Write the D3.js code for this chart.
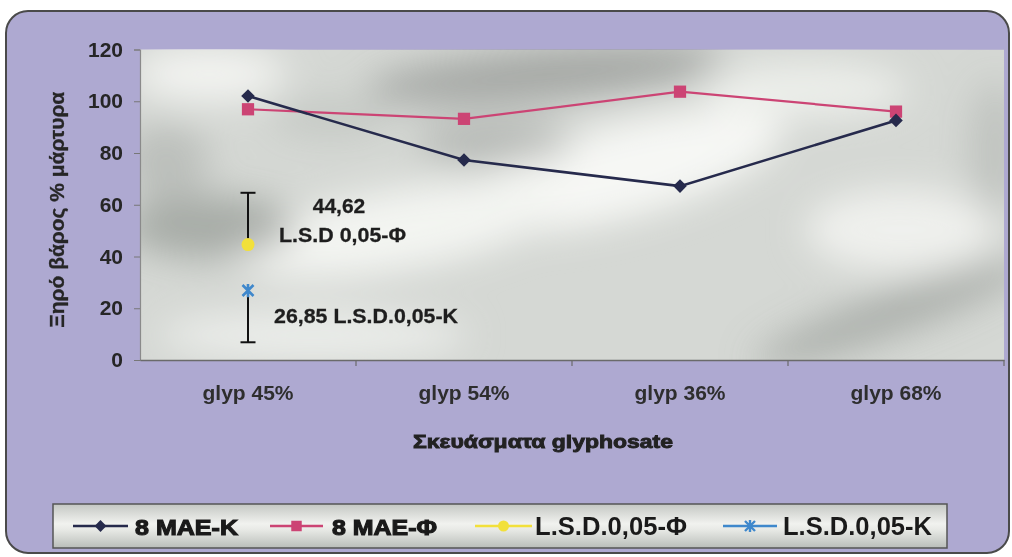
<!DOCTYPE html>
<html>
<head>
<meta charset="utf-8">
<script src="https://cdn.jsdelivr.net/npm/d3@7/dist/d3.min.js"></script>
<style>
  html, body { margin: 0; padding: 0; background: #ffffff; }
  svg { display: block; }
  text { font-family: "Liberation Sans", Arial, sans-serif; }
</style>
</head>
<body>
<svg id="chart" width="1012" height="557"></svg>
<script>
// ---- data ----
const categories = ["glyp 45%", "glyp 54%", "glyp 36%", "glyp 68%"];
const seriesK   = [102, 77.3, 67.2, 92.6];    // 8 ΜΑΕ-Κ
const seriesPhi = [96.9, 93.2, 103.7, 96];    // 8 ΜΑΕ-Φ
const lsdPhi = 44.62;                         // L.S.D.0,05-Φ
const lsdK   = 26.85;                         // L.S.D.0,05-Κ
const lsdBar = 20;                            // error bar length
const yTicks = [0, 20, 40, 60, 80, 100, 120];
const legendLabels = ["8 MAE-K", "8 MAE-Φ", "L.S.D.0,05-Φ", "L.S.D.0,05-K"];
const yTitle = "Ξηρό βάρος % μάρτυρα";
const xTitle = "Σκευάσματα glyphosate";

// ---- layout ----
const plot = { left: 140, right: 1004, top: 49.5, bottom: 360 };
const colK = "#262a4c", colPhi = "#cc4474", colYel = "#f2e03a", colBlue = "#3f88cc";

const svg = d3.select("#chart");
const defs = svg.append("defs");

// soft blur for the mottled plot fill
defs.append("filter").attr("id", "soft").attr("x", "-50%").attr("y", "-50%")
  .attr("width", "200%").attr("height", "200%")
  .append("feGaussianBlur").attr("stdDeviation", 18);

defs.append("clipPath").attr("id", "plotClip")
  .append("rect").attr("x", plot.left).attr("y", plot.top)
  .attr("width", plot.right - plot.left).attr("height", plot.bottom - plot.top);

const lg = defs.append("linearGradient").attr("id", "legendFill")
  .attr("x1", 0).attr("y1", 0).attr("x2", 0).attr("y2", 1);
[[0, "#c4c7c3"], [0.45, "#f1f2ef"], [0.6, "#e6e8e4"], [1, "#b9bdb9"]]
  .forEach(([o, c]) => lg.append("stop").attr("offset", o).attr("stop-color", c));

// ---- outer frame ----
svg.append("rect")
  .attr("x", 6).attr("y", 11).attr("width", 1003).attr("height", 542)
  .attr("rx", 22).attr("ry", 22)
  .attr("fill", "#aea9d1").attr("stroke", "#4a4a4a").attr("stroke-width", 2);

// ---- plot background (grey marble-like fill) ----
const bg = svg.append("g").attr("clip-path", "url(#plotClip)");
bg.append("rect").attr("x", plot.left).attr("y", plot.top)
  .attr("width", plot.right - plot.left).attr("height", plot.bottom - plot.top)
  .attr("fill", "#d5d8d4");
// clouds in plot-fraction units: [fx, fy, frx, fry, angle, colour, opacity]
const clouds = [
  [0.56, 0.39, 0.19, 0.15, -15, "#f6f7f4", 1],
  [0.30, 0.58, 0.19, 0.13, -10, "#f3f4f1", 1],
  [0.08, 0.08, 0.09, 0.09, 0, "#f2f3f0", 1],
  [0.77, 0.13, 0.12, 0.09, 0, "#eceeea", 1],
  [0.88, 0.58, 0.11, 0.13, 0, "#eff0ed", 1],
  [0.20, 0.92, 0.18, 0.08, 0, "#ebedea", 1],
  [0.47, 0.08, 0.21, 0.08, -5, "#8e928e", 0.7],
  [0.41, 0.30, 0.09, 0.07, 0, "#9a9e9a", 0.55],
  [0.08, 0.57, 0.10, 0.10, 0, "#8f938f", 0.65],
  [0.03, 0.36, 0.05, 0.12, 0, "#9ea29e", 0.45],
  [0.87, 0.85, 0.17, 0.07, -20, "#929692", 0.6],
  [0.99, 0.32, 0.03, 0.22, 0, "#a0a4a0", 0.4],
  [0.22, 0.22, 0.07, 0.06, 0, "#adb1ad", 0.4]
];
const pw = plot.right - plot.left, ph = plot.bottom - plot.top;
bg.append("g").attr("filter", "url(#soft)")
  .selectAll("ellipse").data(clouds).join("ellipse")
  .attr("cx", d => plot.left + d[0] * pw).attr("cy", d => plot.top + d[1] * ph)
  .attr("rx", d => d[2] * pw).attr("ry", d => d[3] * ph)
  .attr("transform", d => `rotate(${d[4]},${plot.left + d[0] * pw},${plot.top + d[1] * ph})`)
  .attr("fill", d => d[5]).attr("opacity", d => d[6]);

// ---- scales ----
const x = d3.scaleBand().domain(categories).range([plot.left, plot.right]).padding(0);
const cx = c => x(c) + x.bandwidth() / 2;
const y = d3.scaleLinear().domain([0, 120]).range([plot.bottom, plot.top]);

// ---- axes ----
const yAxis = d3.axisLeft(y).tickValues(yTicks).tickSize(6).tickPadding(11);
const gy = svg.append("g").attr("transform", `translate(${plot.left},0)`).call(yAxis);
gy.select(".domain").attr("stroke", "#8a8a8a").attr("stroke-width", 1.2);
gy.selectAll(".tick line").attr("stroke", "#777");
gy.selectAll(".tick text").attr("font-size", 21).attr("font-weight", "bold")
  .attr("fill", "#262626").attr("font-family", '"Liberation Sans", Arial, sans-serif');

const xAxis = d3.axisBottom(x).tickSize(0).tickPadding(25);
const gx = svg.append("g").attr("transform", `translate(0,${plot.bottom})`).call(xAxis);
gx.select(".domain").attr("stroke", "#6a6a6a").attr("stroke-width", 1.5);
gx.selectAll(".tick text").attr("font-size", 21).attr("font-weight", "bold")
  .attr("fill", "#2e2e2e").attr("font-family", '"Liberation Sans", Arial, sans-serif');
// category boundary ticks
gx.selectAll(".bound").data(categories).join("line").attr("class", "bound")
  .attr("x1", d => x(d) + x.bandwidth()).attr("x2", d => x(d) + x.bandwidth())
  .attr("y1", 0).attr("y2", 6).attr("stroke", "#6a6a6a").attr("stroke-width", 1.2);

// ---- axis titles ----
svg.append("text")
  .attr("transform", `translate(57,${(plot.top + plot.bottom) / 2 + 5}) rotate(-90)`)
  .attr("text-anchor", "middle").attr("dominant-baseline", "central")
  .attr("textLength", 236).attr("lengthAdjust", "spacingAndGlyphs")
  .attr("font-size", 20).attr("font-weight", "bold").attr("fill", "#262626")
  .attr("stroke", "#262626").attr("stroke-width", 0.3)
  .text(yTitle);

svg.append("text")
  .attr("x", 413).attr("y", 448)
  .attr("textLength", 260).attr("lengthAdjust", "spacingAndGlyphs")
  .attr("font-size", 19).attr("font-weight", "bold").attr("fill", "#222")
  .attr("stroke", "#222").attr("stroke-width", 0.9)
  .text(xTitle);

// ---- series lines ----
const line = d3.line().x((d, i) => cx(categories[i])).y(d => y(d));
svg.append("path").datum(seriesPhi).attr("d", line)
  .attr("fill", "none").attr("stroke", colPhi).attr("stroke-width", 2.2);
svg.append("path").datum(seriesK).attr("d", line)
  .attr("fill", "none").attr("stroke", colK).attr("stroke-width", 2.6);

const sq = d3.symbol(d3.symbolSquare, 150);
svg.append("g").selectAll("path").data(seriesPhi).join("path")
  .attr("d", sq).attr("fill", colPhi)
  .attr("transform", (d, i) => `translate(${cx(categories[i])},${y(d)})`);

const dia = d3.symbol(d3.symbolSquare, 92);
svg.append("g").selectAll("path").data(seriesK).join("path")
  .attr("d", dia).attr("fill", colK)
  .attr("transform", (d, i) => `translate(${cx(categories[i])},${y(d)}) rotate(45)`);

// ---- LSD error bars and points ----
const x0 = cx(categories[0]);
const capW = 15;
function errBar(from, to) {
  const g = svg.append("g").attr("stroke", "#111").attr("stroke-width", 2);
  g.append("line").attr("x1", x0).attr("x2", x0).attr("y1", y(from)).attr("y2", y(to));
  g.append("line").attr("x1", x0 - capW / 2).attr("x2", x0 + capW / 2).attr("y1", y(to)).attr("y2", y(to));
}
errBar(lsdPhi, lsdPhi + lsdBar);
errBar(lsdK, lsdK - lsdBar);

svg.append("circle").attr("cx", x0).attr("cy", y(lsdPhi)).attr("r", 6.5).attr("fill", colYel);

function asterisk(g, px, py, r, w) {
  g.append("path")
    .attr("d", `M${px - r},${py - r}L${px + r},${py + r}M${px - r},${py + r}L${px + r},${py - r}M${px},${py - r * 1.2}L${px},${py + r * 1.2}`)
    .attr("stroke", colBlue).attr("stroke-width", w).attr("fill", "none");
}
asterisk(svg, x0, y(lsdK), 5.5, 2.6);

// value labels
const lab = svg.append("g").attr("font-size", 21).attr("font-weight", "bold").attr("fill", "#1e1e1e")
  .attr("stroke", "#1e1e1e").attr("stroke-width", 0.3);
lab.append("text").attr("x", 339).attr("y", 213).attr("text-anchor", "middle")
  .text(lsdPhi.toFixed(2).replace(".", ","));
lab.append("text").attr("x", 279).attr("y", 242).attr("textLength", 127).attr("lengthAdjust", "spacingAndGlyphs")
  .text("L.S.D 0,05-Φ");
lab.append("text").attr("x", 274).attr("y", 323).attr("textLength", 184).attr("lengthAdjust", "spacingAndGlyphs")
  .text(lsdK.toFixed(2).replace(".", ",") + " L.S.D.0,05-K");

// ---- legend ----
const leg = svg.append("g");
leg.append("rect").attr("x", 53).attr("y", 504).attr("width", 894).attr("height", 44)
  .attr("fill", "url(#legendFill)").attr("stroke", "#555").attr("stroke-width", 1.5);
const ly = 526;
const items = [
  { x1: 73, x2: 128, col: colK, mark: "dia", tx: 135, tw: 103, heavy: true },
  { x1: 270, x2: 323, col: colPhi, mark: "sq", tx: 332, tw: 105, heavy: true },
  { x1: 475, x2: 532, col: colYel, mark: "dot", tx: 535, tw: 152, heavy: false },
  { x1: 723, x2: 777, col: colBlue, mark: "ast", tx: 783, tw: 149, heavy: false }
];
items.forEach((it, i) => {
  const m = (it.x1 + it.x2) / 2;
  leg.append("line").attr("x1", it.x1).attr("x2", it.x2).attr("y1", ly).attr("y2", ly)
    .attr("stroke", it.col).attr("stroke-width", 2.4);
  if (it.mark === "dia") {
    leg.append("path").attr("d", d3.symbol(d3.symbolSquare, 70)).attr("fill", it.col)
      .attr("transform", `translate(${m},${ly}) rotate(45)`);
  } else if (it.mark === "sq") {
    leg.append("path").attr("d", d3.symbol(d3.symbolSquare, 110)).attr("fill", it.col)
      .attr("transform", `translate(${m},${ly})`);
  } else if (it.mark === "dot") {
    leg.append("circle").attr("cx", m).attr("cy", ly).attr("r", 5.5).attr("fill", it.col);
  } else {
    asterisk(leg, m, ly, 5, 2.4);
  }
  const t = leg.append("text").attr("x", it.tx).attr("y", ly + 9)
    .attr("textLength", it.tw).attr("lengthAdjust", "spacingAndGlyphs")
    .attr("font-weight", "bold").attr("fill", "#1a1a1a")
    .text(legendLabels[i]);
  if (it.heavy) t.attr("font-size", 22).attr("stroke", "#1a1a1a").attr("stroke-width", 1.1);
  else t.attr("font-size", 25);
});
</script>
</body>
</html>
